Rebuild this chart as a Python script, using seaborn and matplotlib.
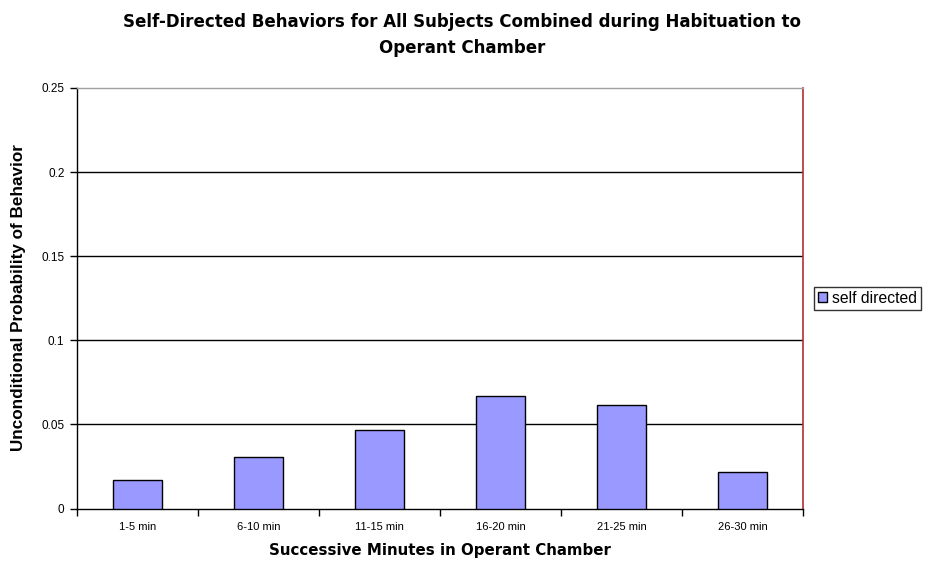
import matplotlib
matplotlib.use("Agg")
import matplotlib.pyplot as plt
import numpy as np
import pandas as pd
import seaborn as sns

# Unconditional probability of self-directed behavior per 5-minute block
periods = ["1-5 min", "6-10 min", "11-15 min", "16-20 min", "21-25 min", "26-30 min"]
probabilities = [0.0170, 0.0305, 0.0467, 0.0669, 0.0614, 0.0217]
series_name = "self directed"
y_ticks = [0, 0.05, 0.1, 0.15, 0.2, 0.25]
y_tick_labels = ["0", "0.05", "0.1", "0.15", "0.2", "0.25"]

df = pd.DataFrame({"period": periods, "prob": probabilities, "series": series_name})

sns.set_theme(style="white")
plt.rcParams["font.family"] = ["Liberation Sans", "DejaVu Sans"]
plt.rcParams["text.color"] = "black"
plt.rcParams["axes.labelcolor"] = "black"
plt.rcParams["xtick.color"] = "black"
plt.rcParams["ytick.color"] = "black"

fig = plt.figure(figsize=(9.28, 5.65), dpi=100)
ax = fig.add_axes([77 / 928, 1 - 508.5 / 565, (803 - 77) / 928, (508.5 - 88) / 565])

sns.barplot(data=df, x="period", y="prob", hue="series", palette=["#9999FF"],
            saturation=1, width=0.4, edgecolor="black", linewidth=1.0, ax=ax, zorder=3)

ax.set_ylim(0, 0.25)
ax.set_xlim(-0.5, len(periods) - 0.5)

# horizontal gridlines
for v in y_ticks[1:-1]:
    ax.axhline(v, color="black", lw=1.0, zorder=1)

ax.set_yticks(y_ticks)
ax.set_yticklabels(y_tick_labels, fontsize=8.5)
ax.tick_params(axis="y", which="major", length=5, width=1, color="black",
               direction="out", left=True, pad=4)

# category labels centred, tick marks at category boundaries
ax.set_xticks(range(len(periods)))
ax.set_xticklabels(periods, fontsize=8)
ax.tick_params(axis="x", which="major", length=0, pad=10)
ax.set_xticks(np.arange(-0.5, len(periods), 1.0), minor=True)
ax.tick_params(axis="x", which="minor", length=5, width=1, color="black",
               direction="out", bottom=True)

for side in ["left", "bottom"]:
    ax.spines[side].set_color("black")
    ax.spines[side].set_linewidth(1.0)
ax.spines["right"].set_color("#B03030")
ax.spines["right"].set_linewidth(1.2)
ax.spines["top"].set_color("#A0A0A0")
ax.spines["top"].set_linewidth(1.0)
ax.spines["top"].set_linestyle((0, (1, 1)))

wide = ["DejaVu Sans"]
ax.set_xlabel("Successive Minutes in Operant Chamber", fontsize=10.8,
              fontweight="bold", family=wide, labelpad=8)
ax.set_ylabel("Unconditional Probability of Behavior", fontsize=12.3,
              fontweight="bold")
ax.yaxis.set_label_coords(19 / 928, 1 - 298 / 565, transform=fig.transFigure)
ax.yaxis.label.set_va("center")

fig.text(0.498, 0.977, "Self-Directed Behaviors for All Subjects Combined during Habituation to\nOperant Chamber",
         ha="center", va="top", fontsize=12, fontweight="bold", family=wide,
         linespacing=1.55)

leg = ax.legend(loc="center left", bbox_to_anchor=(814 / 928, 1 - 298.5 / 565),
                bbox_transform=fig.transFigure, frameon=True, fancybox=False,
                fontsize=11.3, handlelength=0.6, handleheight=0.6, handletextpad=0.3,
                borderpad=0.25, borderaxespad=0)
leg.get_frame().set_edgecolor("black")
leg.get_frame().set_linewidth(1.0)

fig.savefig("out.png", dpi=100)
